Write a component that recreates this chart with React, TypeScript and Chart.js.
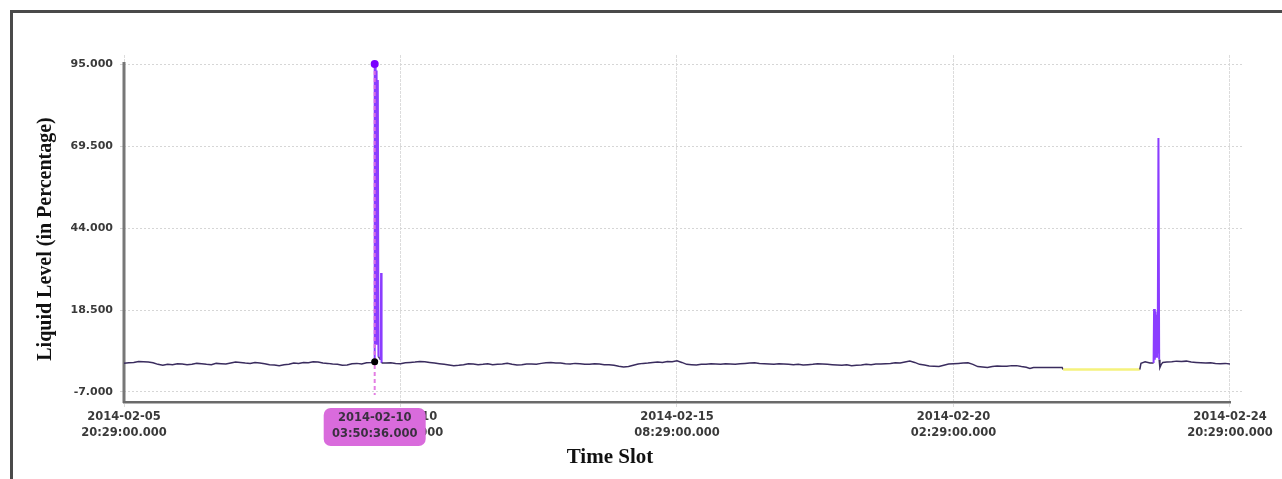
import React, { useEffect, useRef } from "react";
import { Chart, registerables } from "chart.js";

Chart.register(...registerables);

// ---- data (hours since 2014-02-05 20:29:00) ----
const hours: number[] = [
  0, 2, 4, 6, 8, 10, 12, 14, 16, 18, 20, 22, 24, 26, 28, 30, 32, 34, 36, 38,
  40, 42, 44, 46, 48, 50, 52, 54, 56, 58, 60, 62, 64, 66, 68, 70, 72, 74, 76, 78,
  80, 82, 84, 86, 88, 90, 92, 94, 96, 98, 100, 102,
  103.1, 103.36, 103.55, 103.75, 103.95, 104.15, 104.4, 104.65, 104.9, 105.8, 106.0, 106.2,
  108, 110, 112, 114, 116, 118, 120, 122, 124, 126,
  128, 130, 132, 134, 136, 138, 140, 142, 144, 146,
  148, 150, 152, 154, 156, 158, 160, 162, 164, 166,
  168, 170, 172, 174, 176, 178, 180, 182, 184, 186,
  188, 190, 192, 194, 196, 198, 200, 202, 204, 206,
  208, 210, 212, 214, 216, 218, 220, 222, 224, 226,
  228, 230, 232, 234, 236, 238, 240, 242, 244, 246,
  248, 250, 252, 254, 256, 258, 260, 262, 264, 266,
  268, 270, 272, 274, 276, 278, 280, 282, 284, 286,
  288, 290, 292, 294, 296, 298, 300, 302, 304, 306,
  308, 310, 312, 314, 316, 318, 320, 322, 324, 326,
  328, 330, 332, 334, 336, 338, 340, 342, 344, 346,
  348, 350, 352, 354, 356, 358, 360, 362, 364, 366,
  368, 370, 372,
  373.5, 375, 386.8, 387.2, 418.8, 419.3, 421, 423, 424.5,
  424.7, 425.0, 425.3, 425.6, 425.9, 426.2, 426.5, 426.8, 427.1, 427.6, 428.3,
  430, 432, 434, 436, 438, 440, 442, 444, 446, 448, 450, 452, 454, 456,
];

const levels: number[] = [
  1.95, 2.1, 2.2, 2.5, 2.4, 2.3, 2.1, 1.6, 1.3, 1.6, 1.5, 1.8, 1.7, 1.5, 1.6, 1.9, 1.75, 1.6, 1.5, 1.9,
  1.8, 1.7, 2.0, 2.3, 2.2, 2.0, 1.9, 2.2, 2.0, 1.8, 1.5, 1.4, 1.2, 1.5, 1.6, 2.0, 1.9, 2.2, 2.1, 2.4,
  2.3, 2.0, 1.9, 1.7, 1.6, 1.3, 1.4, 1.8, 1.9, 1.7, 2.1, 2.2,
  2.5, 95, 10, 94, 8, 93, 12, 90, 4, 3, 30, 2.0,
  2.0, 2.1, 1.9, 1.8, 2.1, 2.2, 2.3, 2.5, 2.4, 2.2,
  2.0, 1.8, 1.6, 1.4, 1.2, 1.3, 1.5, 1.8, 1.7, 1.5,
  1.6, 1.8, 1.5, 1.6, 1.7, 1.9, 1.6, 1.4, 1.5, 1.7,
  1.7, 1.6, 1.9, 2.1, 2.2, 2.0, 2.0, 1.8, 1.7, 1.9,
  1.8, 1.6, 1.6, 1.8, 1.7, 1.5, 1.5, 1.3, 1.0, 0.8,
  0.9, 1.3, 1.7, 1.9, 2.0, 2.2, 2.3, 2.2, 2.5, 2.4,
  2.7, 2.2, 1.6, 1.5, 1.4, 1.6, 1.6, 1.8, 1.7, 1.6,
  1.8, 1.7, 1.6, 1.8, 1.9, 2.0, 2.1, 1.9, 1.8, 1.7,
  1.6, 1.8, 1.7, 1.6, 1.5, 1.6, 1.4, 1.5, 1.6, 1.8,
  1.7, 1.6, 1.5, 1.4, 1.3, 1.5, 1.2, 1.3, 1.4, 1.6,
  1.5, 1.7, 1.7, 1.8, 1.9, 2.1, 2.0, 2.3, 2.6, 2.2,
  1.6, 1.4, 1.1, 1.0, 0.9, 1.3, 1.7, 1.8, 1.9, 2.0,
  2.1, 1.6, 0.9, 0.8, 0.6, 0.9, 1.1, 1.0, 1.0, 1.2,
  1.2, 0.9, 0.7,
  0.3, 0.6, 0.6, 0.0, 0.0, 1.9, 2.4, 2.0, 2.0,
  18.8, 3, 18, 4, 17, 5, 72, 3, 0.6, 1.5, 2.2,
  2.3, 2.4, 2.6, 2.5, 2.6, 2.3, 2.2, 2.1, 2.0, 2.1, 1.9, 1.8, 1.9, 1.7,
];

// hovered point (crosshair)
const hoverHour = 103.36;
const hoverValues: number[] = [95, 2.43];
const hoverLabel: string[] = ["2014-02-10", "03:50:36.000"];

const xTickHours: number[] = [0, 114, 228, 342, 456];
const xTickLabels: string[][] = [
  ["2014-02-05", "20:29:00.000"],
  ["2014-02-10", "14:29:00.000"],
  ["2014-02-15", "08:29:00.000"],
  ["2014-02-20", "02:29:00.000"],
  ["2014-02-24", "20:29:00.000"],
];
const yTickValues: number[] = [-7, 18.5, 44, 69.5, 95];
const yTickLabels: string[] = ["-7.000", "18.500", "44.000", "69.500", "95.000"];

const yTitle = "Liquid Level (in Percentage)";
const xTitle = "Time Slot";

const LINE_DARK = "#3a2c5e";
const LINE_PURPLE = "#8b3dff";
const LINE_YELLOW = "#f5f27c";

const decorPlugin = {
  id: "decor",
  beforeDatasetsDraw(chart: any) {
    const { ctx } = chart;
    const x = chart.scales.x;
    const y = chart.scales.y;
    ctx.save();
    ctx.strokeStyle = "#777";
    ctx.lineWidth = 3;
    ctx.beginPath();
    ctx.moveTo(x.getPixelForValue(0), y.getPixelForValue(95.6));
    ctx.lineTo(x.getPixelForValue(0), chart.chartArea.bottom + 1);
    ctx.stroke();
    ctx.strokeStyle = "#6a6a6a";
    ctx.lineWidth = 2;
    ctx.beginPath();
    ctx.moveTo(x.getPixelForValue(0) - 1, chart.chartArea.bottom);
    ctx.lineTo(x.getPixelForValue(456) + 1, chart.chartArea.bottom);
    ctx.stroke();
    ctx.strokeStyle = "#b5b5b5";
    ctx.lineWidth = 1;
    ctx.beginPath();
    ctx.moveTo(x.getPixelForValue(0) - 1, chart.chartArea.bottom + 1.5);
    ctx.lineTo(x.getPixelForValue(456) + 1, chart.chartArea.bottom + 1.5);
    ctx.stroke();
    ctx.restore();
  },
  afterDatasetsDraw(chart: any) {
    const { ctx } = chart;
    const x = chart.scales.x;
    const y = chart.scales.y;
    const px = x.getPixelForValue(hoverHour);
    ctx.save();
    ctx.strokeStyle = "rgba(224,112,224,0.9)";
    ctx.lineWidth = 2;
    ctx.setLineDash([4, 3]);
    ctx.beginPath();
    ctx.moveTo(px, y.getPixelForValue(hoverValues[0]));
    ctx.lineTo(px, chart.chartArea.bottom - 7);
    ctx.stroke();
    ctx.setLineDash([]);
    ctx.fillStyle = "#7a00ff";
    ctx.beginPath();
    ctx.arc(px, y.getPixelForValue(hoverValues[0]), 4, 0, Math.PI * 2);
    ctx.fill();
    ctx.fillStyle = "#000";
    ctx.beginPath();
    ctx.arc(px, y.getPixelForValue(hoverValues[1]), 3.5, 0, Math.PI * 2);
    ctx.fill();
    ctx.restore();
  },
  afterDraw(chart: any) {
    const { ctx } = chart;
    const x = chart.scales.x;
    const px = x.getPixelForValue(hoverHour);
    ctx.save();
    const w = 102;
    const h = 38;
    const bx = px - w / 2;
    const by = chart.chartArea.bottom + 6;
    ctx.fillStyle = "#d96bdc";
    ctx.beginPath();
    (ctx as any).roundRect(bx, by, w, h, 7);
    ctx.fill();
    ctx.fillStyle = "#3a3040";
    ctx.font = "bold 11.5px 'DejaVu Sans'";
    ctx.textAlign = "center";
    ctx.textBaseline = "middle";
    ctx.fillText(hoverLabel[0], px, by + 10.5);
    ctx.fillText(hoverLabel[1], px, by + 26.5);
    ctx.fillStyle = "#111";
    ctx.font = "bold 21px 'Liberation Serif'";
    ctx.textAlign = "center";
    ctx.textBaseline = "alphabetic";
    ctx.fillText(xTitle, 610, 463);
    ctx.translate(51, 239);
    ctx.rotate(-Math.PI / 2);
    ctx.font = "bold 20px 'Liberation Serif'";
    ctx.fillText(yTitle, 0, 0);
    ctx.restore();
  },
};

function segColor(ctx: any) {
  const a = ctx.p0.parsed.y;
  const b = ctx.p1.parsed.y;
  if (a > 6 || b > 6) return LINE_PURPLE;
  if (a <= 0.05 && b <= 0.05) return LINE_YELLOW;
  return LINE_DARK;
}

function segWidth(ctx: any) {
  const a = ctx.p0.parsed.y;
  const b = ctx.p1.parsed.y;
  if (a <= 0.05 && b <= 0.05) return 2.5;
  if (a > 6 || b > 6) return 2;
  return 1.5;
}

export default function App() {
  const ref = useRef<HTMLCanvasElement | null>(null);
  useEffect(() => {
    if (!ref.current) return;
    const chart = new Chart(ref.current, {
      type: "line",
      data: {
        datasets: [
          {
            label: "Liquid Level",
            data: hours.map((h, i) => ({ x: h, y: levels[i] })),
            borderColor: LINE_DARK,
            borderWidth: 1.5,
            pointRadius: 0,
            tension: 0,
            segment: { borderColor: segColor, borderWidth: segWidth },
          },
        ],
      },
      options: {
        animation: false,
        responsive: false,
        devicePixelRatio: 1,
        parsing: false,
        normalized: true,
        layout: { padding: { left: 0, top: 55, right: 40, bottom: 0 } },
        plugins: {
          legend: { display: false },
          tooltip: { enabled: false },
          title: { display: false },
        },
        scales: {
          x: {
            type: "linear",
            min: 0,
            max: 460.95,
            afterFit: (s: any) => {
              s.height = 77;
            },
            afterBuildTicks: (s: any) => {
              s.ticks = xTickHours.map((v) => ({ value: v }));
            },
            ticks: {
              autoSkip: false,
              maxRotation: 0,
              minRotation: 0,
              padding: 2,
              color: "#3a3a3a",
              font: { family: "'DejaVu Sans'", size: 11.5, weight: "bold", lineHeight: 1.4 },
              callback: (_v: any, i: number) => xTickLabels[i],
            },
            grid: {
              color: "#dcdcdc",
              lineWidth: 1,
              tickLength: 5,
              drawTicks: true,
            },
            border: { display: false, dash: [3, 1] },
          },
          y: {
            type: "linear",
            min: -10.11,
            max: 97.8,
            afterFit: (s: any) => {
              s.width = 124;
            },
            afterBuildTicks: (s: any) => {
              s.ticks = yTickValues.map((v) => ({ value: v }));
            },
            ticks: {
              padding: 7,
              color: "#3a3a3a",
              font: { family: "'DejaVu Sans'", size: 11, weight: "bold" },
              callback: (_v: any, i: number) => yTickLabels[i],
            },
            grid: {
              color: "#d6d6d6",
              lineWidth: 1,
              tickLength: 4,
            },
            border: { display: false, dash: [2, 2] },
          },
        },
      },
      plugins: [decorPlugin],
    } as any);
    return () => chart.destroy();
  }, []);

  return (
    <div
      style={{
        position: "fixed",
        left: 0,
        top: 0,
        width: 1282,
        height: 479,
        background: "#fff",
        overflow: "hidden",
      }}
    >
      <canvas
        ref={ref}
        width={1282}
        height={479}
        style={{ position: "absolute", left: 0, top: 0, width: 1282, height: 479 }}
      />
      <div
        style={{
          position: "absolute",
          left: 10,
          top: 10,
          width: 1300,
          height: 520,
          borderLeft: "3px solid #4a4a4a",
          borderTop: "3px solid #4a4a4a",
          boxSizing: "border-box",
          pointerEvents: "none",
        }}
      />
    </div>
  );
}
